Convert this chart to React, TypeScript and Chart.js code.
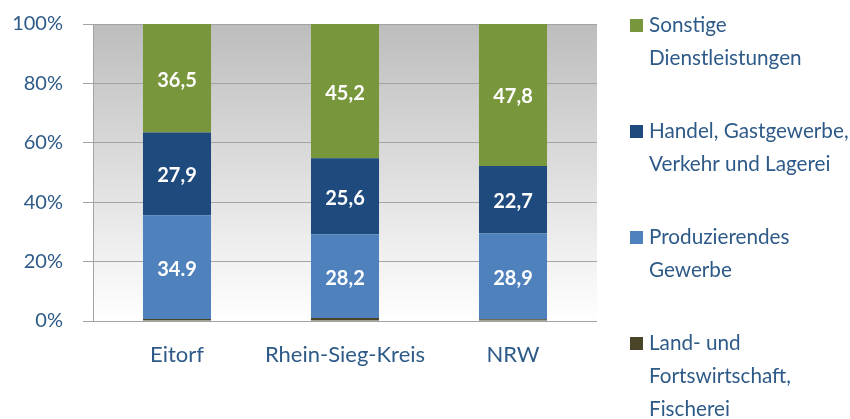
import { useEffect, useRef } from "react";
import { Chart, registerables } from "chart.js";

Chart.register(...registerables);

// Regions compared
const regions = ["Eitorf", "Rhein-Sieg-Kreis", "NRW"];

// Shares of employment by sector (percent), as printed on the bars
const dienstleistungenText = ["36,5", "45,2", "47,8"];
const handelText = ["27,9", "25,6", "22,7"];
const produzierendText = ["34.9", "28,2", "28,9"];
// Agriculture share is too small to be labelled
const landValues = [0.7, 1.0, 0.6];

// Y-axis ticks
const yTicks = [0, 20, 40, 60, 80, 100];

// Legend text, one entry per sector (top to bottom in the legend)
const legendSonstige = ["Sonstige", "Dienstleistungen"];
const legendHandel = ["Handel, Gastgewerbe,", "Verkehr und Lagerei"];
const legendProduzierend = ["Produzierendes", "Gewerbe"];
const legendLand = ["Land- und", "Fortswirtschaft,", "Fischerei"];

const toNumber = (s: string) => parseFloat(s.replace(",", "."));

const FONT = "Lato, 'Open Sans', sans-serif";
const TEXT_COLOR = "#2e5a88";

const COLORS = {
  land: "#4a4529",
  produzierend: "#4f81bd",
  handel: "#1f4a7e",
  sonstige: "#78963b",
};

// Grey-to-white vertical fill behind the plot
const plotBackground = {
  id: "plotBackground",
  beforeDraw(chart: any) {
    const { ctx, chartArea } = chart;
    const { left, right, top, bottom } = chartArea;
    const g = ctx.createLinearGradient(0, top, 0, bottom);
    g.addColorStop(0, "#bdbdbd");
    g.addColorStop(1, "#ffffff");
    ctx.save();
    ctx.fillStyle = g;
    ctx.fillRect(left, top, right - left, bottom - top);
    ctx.restore();
  },
};

// White value text centred inside each labelled segment
const valueLabels = {
  id: "valueLabels",
  afterDatasetsDraw(chart: any) {
    const ctx = chart.ctx;
    ctx.save();
    ctx.fillStyle = "#ffffff";
    ctx.font = `bold 20px ${FONT}`;
    ctx.textAlign = "center";
    ctx.textBaseline = "middle";
    chart.data.datasets.forEach((ds: any, i: number) => {
      const texts: string[] | undefined = ds.valueTexts;
      if (!texts) return;
      const meta = chart.getDatasetMeta(i);
      meta.data.forEach((bar: any, j: number) => {
        const { x, y, base } = bar.getProps(["x", "y", "base"], true);
        ctx.fillText(texts[j], x, (y + base) / 2 + 2);
      });
    });
    ctx.restore();
  },
};

// Multi-line legend on the right, listed from the top segment down
const sideLegend = {
  id: "sideLegend",
  afterDraw(chart: any) {
    const ctx = chart.ctx;
    const items = [...chart.data.datasets].reverse();
    const boxX = 630;
    const textX = 649;
    const firstBaseline = 32;
    const groupGap = 106;
    const lineGap = 33;
    const box = 13;
    ctx.save();
    ctx.font = `20.7px ${FONT}`;
    ctx.textAlign = "left";
    ctx.textBaseline = "alphabetic";
    items.forEach((ds: any, i: number) => {
      const baseline = firstBaseline + i * groupGap;
      ctx.fillStyle = ds.backgroundColor;
      ctx.fillRect(boxX, baseline - box, box, box);
      ctx.fillStyle = TEXT_COLOR;
      (ds.legendLines as string[]).forEach((line, k) => {
        ctx.fillText(line, textX, baseline + k * lineGap);
      });
    });
    ctx.restore();
  },
};

export default function App() {
  const canvasRef = useRef<HTMLCanvasElement>(null);

  useEffect(() => {
    const canvas = canvasRef.current;
    if (!canvas) return;

    const common = {
      barPercentage: 0.405,
      categoryPercentage: 1,
      borderWidth: 0,
    };

    const chart = new Chart(canvas, {
      type: "bar",
      data: {
        labels: regions,
        datasets: [
          {
            ...common,
            label: legendLand.join(" "),
            data: landValues,
            backgroundColor: COLORS.land,
            legendLines: legendLand,
          } as any,
          {
            ...common,
            label: legendProduzierend.join(" "),
            data: produzierendText.map(toNumber),
            backgroundColor: COLORS.produzierend,
            valueTexts: produzierendText,
            legendLines: legendProduzierend,
          } as any,
          {
            ...common,
            label: legendHandel.join(" "),
            data: handelText.map(toNumber),
            backgroundColor: COLORS.handel,
            valueTexts: handelText,
            legendLines: legendHandel,
          } as any,
          {
            ...common,
            label: legendSonstige.join(" "),
            data: dienstleistungenText.map(toNumber),
            backgroundColor: COLORS.sonstige,
            valueTexts: dienstleistungenText,
            legendLines: legendSonstige,
          } as any,
        ],
      },
      options: {
        responsive: false,
        animation: false,
        devicePixelRatio: 1,
        events: [],
        layout: { padding: { left: 0, top: 24, right: 253, bottom: 0 } },
        plugins: {
          legend: { display: false },
          tooltip: { enabled: false },
        },
        scales: {
          x: {
            stacked: true,
            grid: { display: false, drawTicks: false },
            border: { display: false },
            ticks: {
              color: TEXT_COLOR,
              font: { family: FONT, size: 22 },
              padding: 21,
            },
            afterFit: (scale: any) => {
              scale.height = 98;
            },
          },
          y: {
            stacked: true,
            min: 0,
            max: 100,
            afterBuildTicks: (scale: any) => {
              scale.ticks = yTicks.map((v) => ({ value: v }));
            },
            ticks: {
              color: TEXT_COLOR,
              // small line height keeps the axis from reserving extra space above the plot
              font: { family: FONT, size: 20, lineHeight: 0.3 },
              padding: 20,
              callback: (v: any) => `${v}%`,
            },
            grid: {
              color: "#a3a3a3",
              lineWidth: 1,
              drawTicks: true,
              tickLength: 10,
            },
            border: { display: true, color: "#a3a3a3", width: 1 },
            afterFit: (scale: any) => {
              scale.width = 93;
            },
          },
        },
      },
      plugins: [plotBackground, valueLabels, sideLegend],
    });

    return () => chart.destroy();
  }, []);

  return (
    <div
      style={{
        position: "absolute",
        left: 0,
        top: 0,
        width: 850,
        height: 419,
        background: "#ffffff",
      }}
    >
      <canvas
        ref={canvasRef}
        width={850}
        height={419}
        style={{ display: "block", width: 850, height: 419 }}
      />
    </div>
  );
}
